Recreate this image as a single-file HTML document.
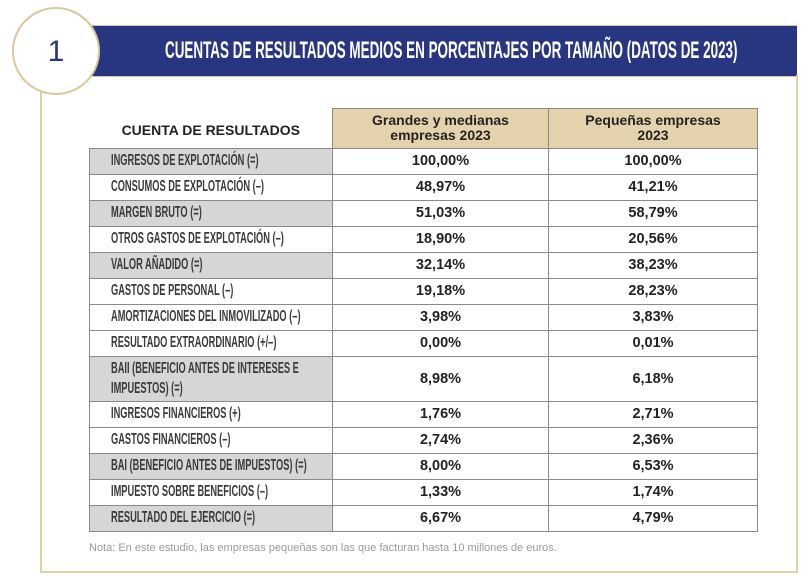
<!DOCTYPE html>
<html><head><meta charset="utf-8"><style>
body{margin:0;width:809px;height:580px;background:#fff;position:relative;overflow:hidden;font-family:"Liberation Sans",sans-serif}
.abs{position:absolute}
.banner{left:92px;top:25px;width:705px;height:50px;background:#283580;border-top:1px solid #d8c8a0;border-bottom:1px solid #d8c8a0}
.title{left:165px;top:25px;height:50px;line-height:52px;color:#fff;font-weight:bold;font-size:24px;transform:scaleX(0.56);transform-origin:left;white-space:nowrap}
.circle{left:12px;top:7px;width:84px;height:84px;border:2px solid #d9c79a;border-radius:50%;background:#fff;text-align:center;line-height:86px;font-size:30px;color:#283580}
table{position:absolute;left:89px;top:108px;border-collapse:collapse;table-layout:fixed;width:668px}
td{height:25px;padding:0;border:1.5px solid #8a8a8a;text-align:center;vertical-align:middle;font-weight:bold;font-size:14.5px;color:#222;overflow:hidden;white-space:nowrap}
td.l{text-align:left;padding-left:21px;color:#3a3a3a}
td.l span{display:inline-block;transform:scaleX(0.58);transform-origin:left;font-size:16px;vertical-align:middle}
td.g{background:#d6d6d6}
th{font-size:14px;font-weight:bold;color:#222;line-height:15px;height:35px;background:#e3d2ac;border:1.5px solid #8a8a8a;padding:0}
th.n{background:#fff;border:none;border-bottom:1.5px solid #8a8a8a;text-align:center;padding-top:4px}
</style></head><body>
<div class="abs banner"></div>
<div class="abs title">CUENTAS DE RESULTADOS MEDIOS EN PORCENTAJES POR TAMAÑO (DATOS DE 2023)</div>
<div class="abs" style="left:40px;top:90px;width:2px;height:483px;background:#e0d0a8"></div>
<div class="abs" style="left:40px;top:571px;width:758px;height:2px;background:#e0d0a8"></div>
<div class="abs" style="left:796px;top:75px;width:2px;height:498px;background:#e0d0a8"></div>
<div class="abs circle">1</div>
<table>
<colgroup><col style="width:243px"><col style="width:216px"><col style="width:209px"></colgroup>
<tr><th class="n">CUENTA DE RESULTADOS</th><th>Grandes y medianas<br>empresas 2023</th><th>Pequeñas empresas<br>2023</th></tr>
<tr><td class="l g"><span>INGRESOS DE EXPLOTACIÓN (=)</span></td><td>100,00%</td><td>100,00%</td></tr>
<tr><td class="l"><span>CONSUMOS DE EXPLOTACIÓN (–)</span></td><td>48,97%</td><td>41,21%</td></tr>
<tr><td class="l g"><span>MARGEN BRUTO (=)</span></td><td>51,03%</td><td>58,79%</td></tr>
<tr><td class="l"><span>OTROS GASTOS DE EXPLOTACIÓN (–)</span></td><td>18,90%</td><td>20,56%</td></tr>
<tr><td class="l g"><span>VALOR AÑADIDO (=)</span></td><td>32,14%</td><td>38,23%</td></tr>
<tr><td class="l"><span>GASTOS DE PERSONAL (–)</span></td><td>19,18%</td><td>28,23%</td></tr>
<tr><td class="l"><span>AMORTIZACIONES DEL INMOVILIZADO (–)</span></td><td>3,98%</td><td>3,83%</td></tr>
<tr><td class="l"><span>RESULTADO EXTRAORDINARIO (+/–)</span></td><td>0,00%</td><td>0,01%</td></tr>
<tr><td class="l g" style="height:44px"><span style="line-height:20px">BAII (BENEFICIO ANTES DE INTERESES E<br>IMPUESTOS) (=)</span></td><td>8,98%</td><td>6,18%</td></tr>
<tr><td class="l"><span>INGRESOS FINANCIEROS (+)</span></td><td>1,76%</td><td>2,71%</td></tr>
<tr><td class="l"><span>GASTOS FINANCIEROS (–)</span></td><td>2,74%</td><td>2,36%</td></tr>
<tr><td class="l g"><span>BAI (BENEFICIO ANTES DE IMPUESTOS) (=)</span></td><td>8,00%</td><td>6,53%</td></tr>
<tr><td class="l"><span>IMPUESTO SOBRE BENEFICIOS (–)</span></td><td>1,33%</td><td>1,74%</td></tr>
<tr><td class="l g"><span>RESULTADO DEL EJERCICIO (=)</span></td><td>6,67%</td><td>4,79%</td></tr>
</table>
<div class="abs" style="left:89px;top:542px;font-size:11px;color:#9a9a9a">Nota: En este estudio, las empresas pequeñas son las que facturan hasta 10 millones de euros.</div>
</body></html>
